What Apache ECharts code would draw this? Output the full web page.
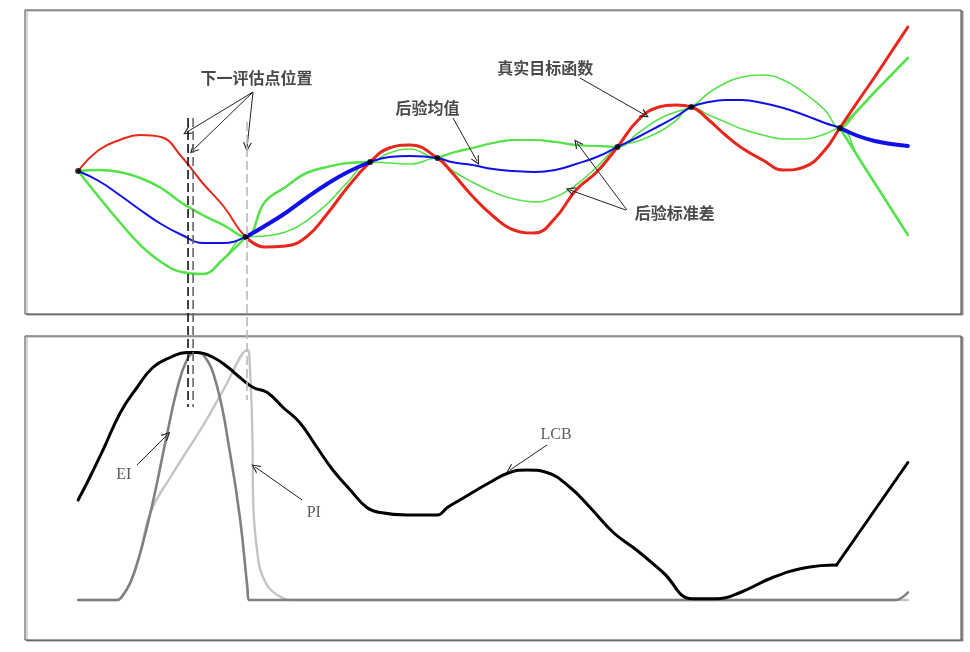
<!DOCTYPE html>
<html><head><meta charset="utf-8">
<script src="https://cdn.jsdelivr.net/npm/echarts@6/dist/echarts.min.js"></script>
<style>html,body{margin:0;padding:0;background:#fff}#c{width:970px;height:652px}</style>
</head><body><div id="c"></div>
<script>
// ---------- top panel data ----------
const xs = [0,0.25,0.5,0.75,1,1.25,1.5,1.75,2.02,2.25,2.5,2.75,3,3.25,3.52,3.75,4,4.33,4.5,4.75,5,5.25,5.5,5.75,6,6.25,6.5,6.75,7,7.2,7.39,7.6,7.8,8,8.25,8.5,8.75,9,9.18,9.4,9.6,9.8,10];
const trueFn = [-0.09,0.12,0.22,0.27,0.25,0.05,-0.21,-0.44,-0.75,-0.85,-0.84,-0.75,-0.52,-0.25,0.00,0.14,0.17,0.04,-0.10,-0.34,-0.54,-0.68,-0.71,-0.56,-0.28,-0.10,0.15,0.42,0.55,0.57,0.55,0.42,0.27,0.14,0.02,-0.08,-0.05,0.12,0.34,0.61,0.85,1.10,1.35];
const postMean = [-0.09,-0.19,-0.33,-0.48,-0.62,-0.73,-0.81,-0.81,-0.75,-0.64,-0.51,-0.36,-0.22,-0.10,0.00,0.05,0.06,0.04,0.00,-0.03,-0.07,-0.09,-0.10,-0.08,-0.02,0.05,0.15,0.25,0.36,0.45,0.55,0.60,0.62,0.62,0.59,0.54,0.47,0.39,0.34,0.26,0.21,0.18,0.16];
const stdUpper = [-0.09,-0.08,-0.10,-0.16,-0.26,-0.41,-0.53,-0.63,-0.75,-0.40,-0.25,-0.11,-0.05,-0.01,0.00,0.09,0.13,0.04,0.09,0.14,0.19,0.22,0.22,0.20,0.17,0.16,0.15,0.29,0.43,0.50,0.55,0.69,0.79,0.85,0.87,0.82,0.69,0.52,0.34,0.52,0.70,0.87,1.04];
const stdLower = [-0.09,-0.35,-0.60,-0.83,-1.00,-1.10,-1.12,-0.97,-0.75,-0.74,-0.70,-0.59,-0.42,-0.20,0.00,-0.01,-0.02,0.04,-0.08,-0.20,-0.30,-0.37,-0.40,-0.35,-0.23,-0.05,0.15,0.21,0.30,0.41,0.55,0.47,0.40,0.33,0.27,0.23,0.23,0.28,0.34,0.05,-0.21,-0.47,-0.73];
const obsX = [0, 2.02, 3.52, 4.33, 6.5, 7.39, 9.18];
const obsY = [-0.09, -0.75, 0.00, 0.04, 0.15, 0.55, 0.34];
// next evaluation positions (vertical dashed lines)
const nextX = [1.325, 1.386, 2.036];
const nextTop = [0.44, 0.44, 0.40];
const nextBottom = [-2.45, -2.45, -2.38];
// top annotations
const topLabels = ['下一评估点位置', '后验均值', '真实目标函数', '后验标准差'];
const topLabelPos = [[2.15, 0.84], [4.21, 0.54], [5.63, 0.94], [7.19, -0.51]];
const topArrows = [
  [[2.108, 0.70], [1.313, 0.30]],
  [[2.108, 0.70], [1.386, 0.12]],
  [[2.108, 0.70], [2.036, 0.15]],
  [[4.518, 0.44], [4.807, 0.01]],
  [[6.048, 0.84], [6.831, 0.47]],
  [[6.614, -0.48], [6.012, 0.19]],
  [[6.600, -0.48], [5.928, -0.28]]
];
// ---------- bottom panel data ----------
const lcbX = [0,0.14,0.30,0.51,0.71,0.90,1.11,1.31,1.43,1.63,1.81,1.95,2.11,2.28,2.47,2.67,2.88,3.07,3.28,3.48,3.64,3.96,4.33,4.45,4.60,4.96,5.20,5.41,5.65,5.93,6.17,6.45,6.73,7.05,7.40,7.70,7.98,8.37,8.78,9.14,10];
const lcbY = [0.40,0.49,0.60,0.75,0.85,0.93,0.97,0.99,0.99,0.97,0.93,0.89,0.85,0.83,0.77,0.71,0.61,0.52,0.44,0.37,0.35,0.34,0.34,0.37,0.40,0.47,0.51,0.52,0.51,0.45,0.37,0.27,0.20,0.11,0.005,0.005,0.03,0.09,0.13,0.14,0.55];
const lcbKinkX = 9.14; // straight rise after the last kink
const eiX = [0,0.47,0.52,0.63,0.75,0.90,1.07,1.19,1.31,1.41,1.51,1.67,1.83,1.95,2.04,2.06,3,5,7,9,9.85,9.93,10];
const eiY = [0,0,0.01,0.07,0.19,0.39,0.66,0.84,0.96,0.99,0.98,0.86,0.59,0.33,0.05,0,0,0,0,0,0,0.01,0.03];
const piX = [0,0.47,0.52,0.63,0.75,0.87,1.11,1.51,1.75,2.04,2.07,2.10,2.11,2.16,2.23,2.40,2.64,5,10];
const piY = [0,0,0.01,0.07,0.19,0.35,0.49,0.70,0.84,1.00,0.93,0.66,0.39,0.19,0.09,0.02,0,0,0];
const bottomLabels = ['EI', 'PI', 'LCB'];
const bottomLabelPos = [[0.55, 0.50], [2.84, 0.35], [5.76, 0.66]];
const bottomArrows = [
  [[0.71, 0.54], [1.072, 0.66]],
  [[2.70, 0.40], [2.133, 0.532]],
  [[5.651, 0.62], [5.205, 0.52]]
];

// ---------- helpers ----------
const pair = (x, y) => x.map((v, i) => [v, y[i]]);
const seg = (x, y, a, b) => pair(x, y).slice(a, b + 1);
const arrowHead = 'path://M5,0 L10,10 L8.6,10 L5,2.8 L1.4,10 L0,10 Z';
const RED = '#e8281e', BLUE = '#1010ea', GREEN = '#55e24a';

function curve(data, color, width, z, g, smooth) {
  return { type: 'line', xAxisIndex: g, yAxisIndex: g, data, smooth: smooth === undefined ? 0.45 : smooth, symbol: 'none',
    lineStyle: { color, width, cap: 'round', join: 'round' }, z, silent: true };
}
function arrows(list, g) {
  return { type: 'line', xAxisIndex: g, yAxisIndex: g, data: [[5, 0]], symbol: 'none', lineStyle: { width: 0 }, silent: true, z: 20,
    markLine: { silent: true, animation: false, symbol: ['none', arrowHead], symbolSize: [9, 9],
      lineStyle: { color: '#222', width: 1, type: 'solid' }, label: { show: false },
      emphasis: { disabled: true },
      data: list.map(a => [{ coord: a[0] }, { coord: a[1] }]) } };
}
function labels(names, pos, g, font) {
  return { type: 'scatter', xAxisIndex: g, yAxisIndex: g, symbolSize: 1, itemStyle: { color: 'rgba(0,0,0,0)' }, silent: true, z: 30,
    label: Object.assign({ show: true, position: 'inside', formatter: p => p.name }, font),
    data: names.map((n, i) => ({ name: n, value: pos[i] })) };
}

const series = [];
// top grid curves
series.push(curve(pair(xs, stdUpper), GREEN, 1.6, 2, 0));
series.push(curve(pair(xs, stdLower), GREEN, 1.6, 2, 0));
series.push(curve(seg(xs, stdUpper, 0, 14), GREEN, 2.5, 2, 0));
series.push(curve(seg(xs, stdUpper, 17, 26), GREEN, 2.2, 2, 0));
series.push(curve(seg(xs, stdUpper, 38, 42), GREEN, 2.6, 2, 0));
series.push(curve(seg(xs, stdLower, 0, 8), GREEN, 2.5, 2, 0));
series.push(curve(seg(xs, stdLower, 38, 42), GREEN, 2.6, 2, 0));
series.push(curve(pair(xs, trueFn), RED, 2, 3, 0));
series.push(curve(seg(xs, trueFn, 8, 42), RED, 3, 3, 0));
series.push(curve(pair(xs, postMean), BLUE, 2, 4, 0));
series.push(curve(seg(xs, postMean, 8, 14), BLUE, 4, 4, 0));
series.push(curve(seg(xs, postMean, 38, 42), BLUE, 4, 4, 0));
series.push({ type: 'scatter', xAxisIndex: 0, yAxisIndex: 0, data: pair(obsX, obsY), symbolSize: 6,
  itemStyle: { color: '#000' }, z: 6, silent: true });
// dashed next-evaluation lines spanning both panels
const dashColors = ['#111', '#666', '#bbb'];
nextX.forEach((x, i) => series.push({ type: 'line', xAxisIndex: 0, yAxisIndex: 0, clip: false, symbol: 'none', silent: true, z: 8,
  data: [[x, nextTop[i]], [x, nextBottom[i]]], lineStyle: { color: dashColors[i], width: 1.6, type: [9, 4] } }));
series.push(arrows(topArrows, 0));
series.push(labels(topLabels, topLabelPos, 0, { fontSize: 16, fontFamily: 'Noto Sans CJK SC', fontWeight: 'bold', color: '#1a1a1a' }));
// bottom grid curves
series.push(curve(pair(piX, piY), '#c4c4c4', 2.4, 2, 1));
series.push(curve(pair(eiX, eiY), '#808080', 2.6, 3, 1));
const kink = lcbX.indexOf(lcbKinkX);
const lcbPts = pair(lcbX, lcbY);
series.push(curve(lcbPts.slice(0, kink + 1), '#000', 3, 4, 1));
series.push(curve(lcbPts.slice(kink), '#000', 3, 4, 1, false));
series.push(arrows(bottomArrows, 1));
series.push(labels(bottomLabels, bottomLabelPos, 1, { fontSize: 16, fontFamily: 'Liberation Serif', color: '#333' }));

const axisCommon = { type: 'value', show: false, splitLine: { show: false } };
const chart = echarts.init(document.getElementById('c'), null, { renderer: 'canvas' });
chart.setOption({
  animation: false,
  backgroundColor: '#fff',
  grid: [
    { left: 25, right: 9, top: 10, height: 304, show: true, borderColor: '#444', borderWidth: 1, backgroundColor: '#fff',
      shadowColor: 'rgba(0,0,0,0.35)', shadowOffsetX: 2, shadowOffsetY: 1, shadowBlur: 1 },
    { left: 25, right: 9, top: 336, height: 304, show: true, borderColor: '#444', borderWidth: 1, backgroundColor: '#fff',
      shadowColor: 'rgba(0,0,0,0.35)', shadowOffsetX: 2, shadowOffsetY: 1, shadowBlur: 1 }
  ],
  xAxis: [
    Object.assign({ gridIndex: 0, min: -0.64, max: 10.64 }, axisCommon),
    Object.assign({ gridIndex: 1, min: -0.64, max: 10.64 }, axisCommon)
  ],
  yAxis: [
    Object.assign({ gridIndex: 0, min: -1.52, max: 1.52 }, axisCommon),
    Object.assign({ gridIndex: 1, min: -0.16, max: 1.056 }, axisCommon)
  ],
  series
});
</script></body></html>
